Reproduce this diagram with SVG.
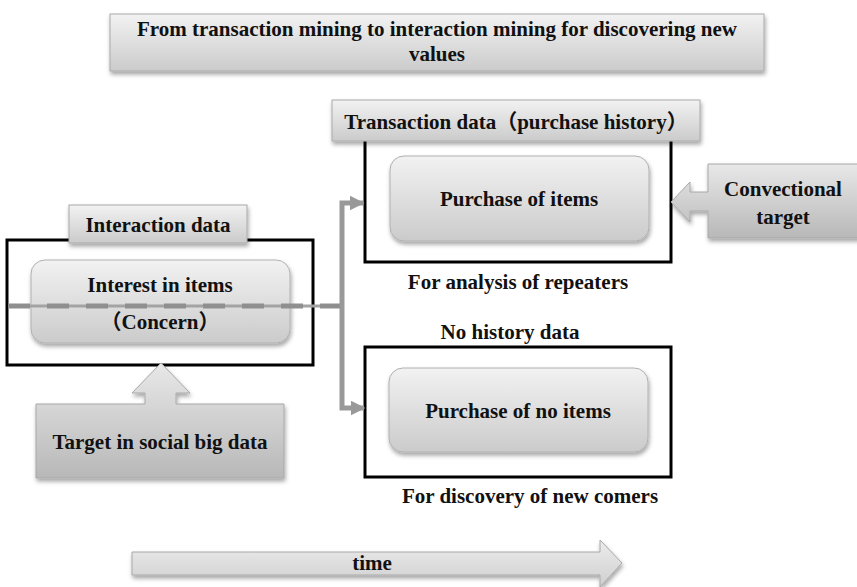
<svg xmlns="http://www.w3.org/2000/svg" width="857" height="587" viewBox="0 0 857 587">
<defs>
<linearGradient id="gBox" x1="0" y1="0" x2="0" y2="1">
<stop offset="0" stop-color="#f2f2f2"/>
<stop offset="1" stop-color="#cbcbcb"/>
</linearGradient>
<linearGradient id="gCall" x1="0" y1="0" x2="0" y2="1">
<stop offset="0" stop-color="#e8e8e8"/>
<stop offset="1" stop-color="#b8b8b8"/>
</linearGradient>
<linearGradient id="gTime" x1="0" y1="0" x2="0" y2="1">
<stop offset="0" stop-color="#ececec"/>
<stop offset="1" stop-color="#cfcfcf"/>
</linearGradient>
<filter id="sh" x="-10%" y="-20%" width="120%" height="150%">
<feDropShadow dx="1" dy="3" stdDeviation="2" flood-color="#000" flood-opacity="0.35"/>
</filter>
<marker id="ah" viewBox="0 0 10 10" refX="9" refY="5" markerWidth="3" markerHeight="3" orient="auto" markerUnits="strokeWidth">
<path d="M0,0 L10,5 L0,10 z" fill="#999"/>
</marker>
</defs>
<style>
text{font-family:"Liberation Serif","Noto Sans CJK JP",serif;font-weight:bold;fill:#111;text-anchor:middle;font-size:21px}
.lbl{fill:url(#gBox);stroke:#aaa;stroke-width:1;filter:url(#sh)}
.rr{fill:url(#gBox);stroke:#b0b0b0;stroke-width:1;filter:url(#sh)}
.frame{fill:#fff;stroke:#000;stroke-width:3}
.call{fill:url(#gCall);stroke:#a8a8a8;stroke-width:1;filter:url(#sh)}
.conn{fill:none;stroke:#999;stroke-width:5}
</style>

<g id="title">
<rect class="lbl" x="110" y="14" width="654" height="57"/>
<text x="437" y="36">From transaction mining to interaction mining for discovering new</text>
<text x="437" y="61">values</text>
</g>

<g id="transaction-frame">
<rect class="frame" x="365" y="130" width="306" height="132"/>
<rect class="lbl" x="332" y="100" width="368" height="41"/>
<text x="516" y="129">Transaction data（purchase history）</text>
</g>

<g id="purchase-items">
<rect class="rr" x="390" y="156" width="259" height="85" rx="14"/>
<text x="519" y="206">Purchase of items</text>
</g>

<g id="repeaters-label">
<text x="518" y="289">For analysis of repeaters</text>
</g>

<g id="conventional-target">
<path class="call" d="M708,164 L860,164 L860,238 L708,238 L708,211 L690,211 L690,222 L671,202 L690,182 L690,192 L708,192 Z"/>
<text x="783" y="196">Convectional</text>
<text x="783" y="224">target</text>
</g>

<g id="interaction-frame">
<rect class="frame" x="7" y="240" width="306" height="125"/>
<rect class="lbl" x="69" y="205" width="178" height="38"/>
<text x="158" y="232">Interaction data</text>
</g>

<g id="interest">
<rect class="rr" x="31" y="260" width="259" height="83" rx="14"/>
<text x="160" y="292">Interest in items</text>
<text x="160" y="329">（Concern）</text>
</g>

<g id="social-target">
<path class="call" d="M36,404 L145,404 L145,393 L132,393 L161,363 L190,393 L176,393 L176,404 L284,404 L284,478 L36,478 Z"/>
<text x="160" y="449">Target in social big data</text>
</g>

<g id="no-history-label">
<text x="510" y="339">No history data</text>
</g>

<g id="no-history-frame">
<rect class="frame" x="365" y="347" width="306" height="130"/>
</g>

<g id="purchase-no-items">
<rect class="rr" x="389" y="368" width="259" height="84" rx="14"/>
<text x="518" y="418">Purchase of no items</text>
</g>

<g id="newcomers-label">
<text x="530" y="503">For discovery of new comers</text>
</g>

<g id="time-arrow">
<path d="M132,552 L600,552 L600,540 L622,563 L600,587 L600,575 L132,575 Z" fill="url(#gTime)" stroke="#a8a8a8" stroke-width="1" filter="url(#sh)"/>
<text x="372" y="570">time</text>
</g>

<g id="connectors">
<line x1="8" y1="306" x2="342" y2="306" stroke="#a3a3a3" stroke-width="3"/>
<line x1="8" y1="306" x2="342" y2="306" stroke="#8f8f8f" stroke-width="5" stroke-dasharray="22 17"/>
<path class="conn" d="M342,306 L342,203 L363,203" marker-end="url(#ah)"/>
<path class="conn" d="M342,306 L342,408 L364,408" marker-end="url(#ah)"/>
</g>
</svg>
